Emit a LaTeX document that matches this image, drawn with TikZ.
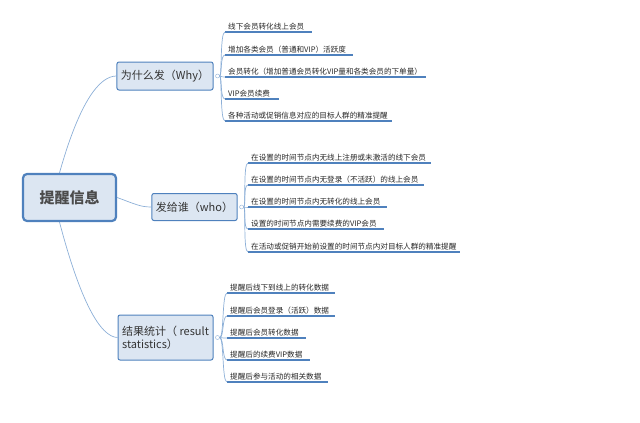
\documentclass[tikz,border=0pt]{standalone}
\usepackage{fontspec}
\setmainfont{Noto Sans CJK SC}
\definecolor{bord}{RGB}{79,129,189}
\definecolor{bfill}{RGB}{220,230,242}
\definecolor{lcol}{RGB}{140,175,215}
\begin{document}
\begin{tikzpicture}[x=1pt,y=-1pt,
  box/.style={draw=bord, fill=bfill, line width=1pt, rounded corners=2pt, inner sep=4pt, font=\fontsize{11}{13}\selectfont, text=black!80},
  leaf/.style={anchor=south west, inner sep=1pt, inner xsep=3pt, font=\fontsize{7.6}{9}\selectfont, text=black!85, align=left},
  uline/.style={draw=bord, line width=1.4pt},
  conn/.style={draw=lcol, line width=0.7pt}]
\useasboundingbox (0,0) rectangle (640,423);
\node[box, line width=2.2pt, rounded corners=4pt, minimum width=93pt, minimum height=47pt, font=\fontsize{15}{18}\selectfont\bfseries, text=black!70] (root) at (69.5,197.5) {提醒信息};
\node[box, minimum width=94pt, minimum height=28pt] (why) at (165,76) {为什么发（Why）};
\node[box, minimum width=83pt, minimum height=27pt] (who) at (194.5,207) {发给谁（who）};
\node[box, minimum width=95pt, minimum height=45pt, align=left] (res) at (165.5,337.5) {结果统计（ result\\statistics）};
\draw[conn] (root.north) ++(-10,0) coordinate (r1) .. controls (80,100) and (100,76) .. (why.west);
\draw[conn] (root.east) .. controls (135,204) and (140,207) .. (who.west);
\draw[conn] (root.south) ++(-10,0) coordinate (r2) .. controls (80,300) and (100,337) .. (res.west);
\foreach \p/\n in {why/w, who/h, res/r}{
  \node[circle, draw=lcol, fill=white, inner sep=0pt, minimum size=4pt] (\n c) at ([xshift=4pt]\p.east) {};
}
\foreach \i/\y/\e/\t in {1/32/312/线下会员转化线上会员, 2/55/353/增加各类会员（普通和VIP）活跃度, 3/77/426/会员转化（增加普通会员转化VIP量和各类会员的下单量）, 4/99/279/VIP会员续费, 5/121/392/各种活动或促销信息对应的目标人群的精准提醒}{
  \node[leaf] (w\i) at (225,\y-1) {\t};
  \coordinate (we\i) at (\e,\y);
  \draw[uline] (225,\y) coordinate (ws\i) -- (we\i);
  \draw[conn] (wc.east) .. controls (222,76) and (220,\y) .. (ws\i);
}
\foreach \i/\y/\e/\t in {1/163/431/在设置的时间节点内无线上注册或未激活的线下会员, 2/185/424/在设置的时间节点内无登录（不活跃）的线上会员, 3/207/387/在设置的时间节点内无转化的线上会员, 4/229/384/设置的时间节点内需要续费的VIP会员, 5/252/460/在活动或促销开始前设置的时间节点内对目标人群的精准提醒}{
  \node[leaf] (h\i) at (248,\y-1) {\t};
  \coordinate (he\i) at (\e,\y);
  \draw[uline] (248,\y) coordinate (hs\i) -- (he\i);
  \draw[conn] (hc.east) .. controls (246,207) and (243,\y) .. (hs\i);
}
\foreach \i/\y/\e/\t in {1/293/335/提醒后线下到线上的转化数据, 2/316/335/提醒后会员登录（活跃）数据, 3/338/306/提醒后会员转化数据, 4/360/310/提醒后的续费VIP数据, 5/382/328/提醒后参与活动的相关数据}{
  \node[leaf] (r\i) at (227,\y-1) {\t};
  \coordinate (re\i) at (\e,\y);
  \draw[uline] (227,\y) coordinate (rs\i) -- (re\i);
  \draw[conn] (rc.east) .. controls (224,338) and (222,\y) .. (rs\i);
}
\end{tikzpicture}
\end{document}
